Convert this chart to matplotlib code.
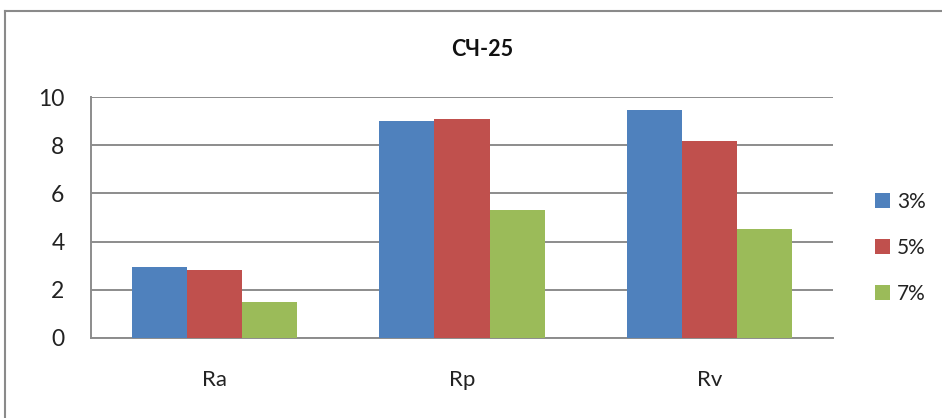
import matplotlib
matplotlib.use("Agg")
import matplotlib.pyplot as plt
from matplotlib.lines import Line2D
import numpy as np

plt.rcParams['font.family'] = ['Lato', 'Open Sans', 'DejaVu Sans']

title = "СЧ-25"
categories = ["Ra", "Rp", "Rv"]
series_names = ["3%", "5%", "7%"]
values_3 = [2.94, 9.01, 9.46]
values_5 = [2.83, 9.11, 8.18]
values_7 = [1.48, 5.31, 4.54]
colors = ["#4F81BD", "#C0504D", "#9BBB59"]
yticks = [0, 2, 4, 6, 8, 10]

fig = plt.figure(figsize=(9.42, 4.18), dpi=100)
ax = fig.add_axes([91/942, 1-337.7/418, (833-91)/942, (337.7-97.3)/418])

x = np.arange(len(categories))
bw = 0.223
for i, (vals, name, c) in enumerate(zip([values_3, values_5, values_7], series_names, colors)):
    ax.bar(x + (i-1)*bw, vals, width=bw, color=c, label=name, zorder=3)

ax.set_xlim(-0.5, 2.5)
ax.set_ylim(0, 10)
ax.set_yticks(yticks)
ax.set_yticklabels([str(t) for t in yticks], fontsize=16.5, color="#222222")
ax.set_xticks(x)
ax.set_xticklabels(categories, fontsize=16, color="#222222")
ax.tick_params(axis='x', length=0, pad=23)
ax.tick_params(axis='y', length=0, pad=19)
ax.grid(axis='y', color="#8c8c8c", linewidth=1.4, zorder=0)
for s in ['top', 'right']:
    ax.spines[s].set_visible(False)
for s in ['left', 'bottom']:
    ax.spines[s].set_color("#8c8c8c")
    ax.spines[s].set_linewidth(1.4)

fig.text(482/942, 1-49.5/418, title, fontsize=15.5, fontweight='bold', ha='center', va='center', color="#111111")

leg = fig.legend(loc='center left', bbox_to_anchor=(875/942, 1-248/418), frameon=False,
                 fontsize=15, handlelength=0.7, handleheight=0.7, handletextpad=0.35,
                 labelspacing=1.25, borderaxespad=0, borderpad=0)
for t in leg.get_texts():
    t.set_color("#222222")

# outer chart frame
fig.add_artist(Line2D([5/942, 1], [1-11/418, 1-11/418], transform=fig.transFigure, color="#8a8a8a", linewidth=1.5))
fig.add_artist(Line2D([5/942, 5/942], [0, 1-11/418], transform=fig.transFigure, color="#8a8a8a", linewidth=1.5))

fig.savefig("out.png", dpi=100, facecolor="white")
